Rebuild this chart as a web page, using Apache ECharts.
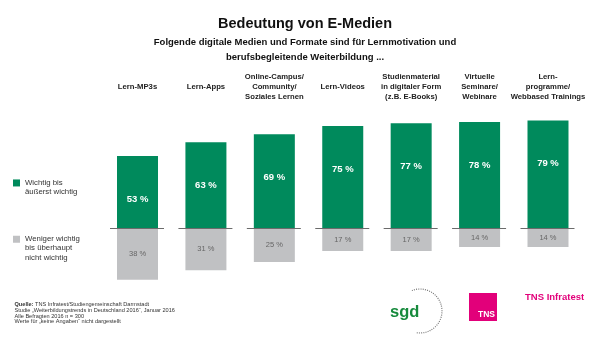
<!DOCTYPE html>
<html>
<head>
<meta charset="utf-8">
<script src="https://cdn.jsdelivr.net/npm/echarts@6/dist/echarts.min.js"></script>
<style>
html,body{margin:0;padding:0;background:#fff;}
#chart{width:600px;height:349px;}
</style>
</head>
<body>
<div id="chart"></div>
<script>
// ---- data ----
const categories = [
  'Lern-MP3s',
  'Lern-Apps',
  'Online-Campus/\nCommunity/\nSoziales Lernen',
  'Lern-Videos',
  'Studienmaterial\nin digitaler Form\n(z.B. E-Books)',
  'Virtuelle\nSeminare/\nWebinare',
  'Lern-\nprogramme/\nWebbased Trainings'
];
const importantValues = [53, 63, 69, 75, 77, 78, 79];
const lessImportantValues = [38, 31, 25, 17, 17, 14, 14];
const seriesNames = ['Wichtig bis äußerst wichtig', 'Weniger wichtig bis überhaupt nicht wichtig'];
const legendLabels = ['Wichtig bis\näußerst wichtig', 'Weniger wichtig\nbis überhaupt\nnicht wichtig'];
const titleText = 'Bedeutung von E-Medien';
const subtitleText = 'Folgende digitale Medien und Formate sind für Lernmotivation und\nberufsbegleitende Weiterbildung ...';
const sourceLines = [
  'Studie „Weiterbildungstrends in Deutschland 2016“, Januar 2016',
  'Alle Befragten 2016 n = 300',
  'Werte für „keine Angaben“ nicht dargestellt'
];

const GREEN = '#008a5c';
const GRAY = '#c0c1c3';
const PINK = '#e2007a';
const FONT = 'Liberation Sans, Arial, sans-serif';

const chart = echarts.init(document.getElementById('chart'), null, {renderer: 'canvas'});

function legendFormatter(name) {
  const idx = seriesNames.indexOf(name);
  const lines = legendLabels[idx].split('\n');
  // pad with blank lines above so that the first text line sits next to the icon
  const pad = new Array(lines.length - 1).fill('');
  return pad.concat(lines).join('\n');
}

const option = {
  backgroundColor: '#ffffff',
  animation: false,
  title: [
    {
      text: titleText,
      left: 300, top: 11, textAlign: 'center',
      textStyle: {fontFamily: FONT, fontSize: 14.5, fontWeight: 'bold', color: '#111'}
    },
    {
      text: subtitleText,
      left: 300, top: 30.5, textAlign: 'center',
      textStyle: {fontFamily: FONT, fontSize: 9.5, fontWeight: 'bold', color: '#111', lineHeight: 14.5}
    }
  ],
  legend: [
    {
      data: [seriesNames[0]],
      left: 13, top: 169, padding: 0,
      orient: 'vertical',
      itemWidth: 7, itemHeight: 7, icon: 'rect',
      selectedMode: false,
      formatter: legendFormatter,
      textStyle: {fontFamily: FONT, fontSize: 7.8, color: '#333', lineHeight: 9.3}
    },
    {
      data: [seriesNames[1]],
      left: 13, top: 216.5, padding: 0,
      orient: 'vertical',
      itemWidth: 7, itemHeight: 7, icon: 'rect',
      selectedMode: false,
      formatter: legendFormatter,
      textStyle: {fontFamily: FONT, fontSize: 7.8, color: '#333', lineHeight: 9.1}
    }
  ],
  grid: {left: 103.3, right: 17.8, top: 105.6, bottom: 66.6, containLabel: false},
  xAxis: {
    type: 'category',
    position: 'top',
    data: categories,
    axisLine: {show: false},
    axisTick: {show: false},
    splitLine: {show: false},
    axisLabel: {
      interval: 0,
      margin: 18.6,
      verticalAlign: 'middle',
      fontFamily: FONT, fontSize: 7.7, fontWeight: 'bold', color: '#222', lineHeight: 9.7
    }
  },
  yAxis: {
    type: 'value', min: -40, max: 90, show: false,
    splitLine: {show: false}
  },
  series: [
    {
      name: seriesNames[0],
      type: 'bar',
      stack: 'total',
      barWidth: 41,
      data: importantValues,
      itemStyle: {color: GREEN},
      label: {
        show: true, position: 'insideTop', distance: 38,
        formatter: p => p.value + ' %',
        fontFamily: FONT, fontSize: 9.5, fontWeight: 'bold', color: '#ffffff'
      }
    },
    {
      name: seriesNames[1],
      type: 'bar',
      stack: 'total',
      barWidth: 41,
      data: lessImportantValues.map(v => -v),
      itemStyle: {color: GRAY},
      label: {
        show: true, position: 'inside',
        formatter: p => Math.abs(p.value) + ' %',
        fontFamily: FONT, fontSize: 7.5, color: '#666'
      }
    },
    {
      name: 'baseline',
      type: 'custom',
      data: categories.map((c, i) => [i, 0]),
      z: 5,
      silent: true,
      renderItem: function (params, api) {
        const p = api.coord([api.value(0), 0]);
        return {
          type: 'line',
          shape: {x1: p[0] - 27.5, y1: Math.round(p[1]) + 0.5, x2: p[0] + 26.5, y2: Math.round(p[1]) + 0.5},
          style: {stroke: '#6b6b6b', lineWidth: 1}
        };
      }
    }
  ],
  graphic: [
    {
      type: 'text', left: 14.5, top: 301.8,
      style: {
        text: '{b|Quelle:} TNS Infratest/Studiengemeinschaft Darmstadt\n' + sourceLines.join('\n'),
        fontFamily: FONT, fontSize: 5.6, lineHeight: 5.7, fill: '#333',
        rich: {b: {fontFamily: FONT, fontSize: 5.6, fontWeight: 'bold', fill: '#333', lineHeight: 5.7}}
      }
    },
    // sgd logo
    {
      type: 'text', left: 390, top: 304,
      style: {text: 'sgd', fontFamily: FONT, fontSize: 16.5, fontWeight: 'bold', fill: '#168a3c'}
    },
    {
      type: 'arc',
      shape: {cx: 420, cy: 311, r: 22, startAngle: -Math.PI * 0.62, endAngle: Math.PI * 0.55},
      style: {stroke: '#777', lineWidth: 1.2, lineDash: [1, 1.2], fill: null}
    },
    // TNS square
    {
      type: 'rect',
      shape: {x: 469, y: 293, width: 28, height: 28},
      style: {fill: PINK}
    },
    {
      type: 'text', left: 478, top: 310.5,
      style: {text: 'TNS', fontFamily: FONT, fontSize: 8.5, fontWeight: 'bold', fill: '#fff'}
    },
    {
      type: 'text', left: 525, top: 292,
      style: {text: 'TNS Infratest', fontFamily: FONT, fontSize: 9.5, fontWeight: 'bold', fill: PINK}
    }
  ]
};

chart.setOption(option);
</script>
</body>
</html>
